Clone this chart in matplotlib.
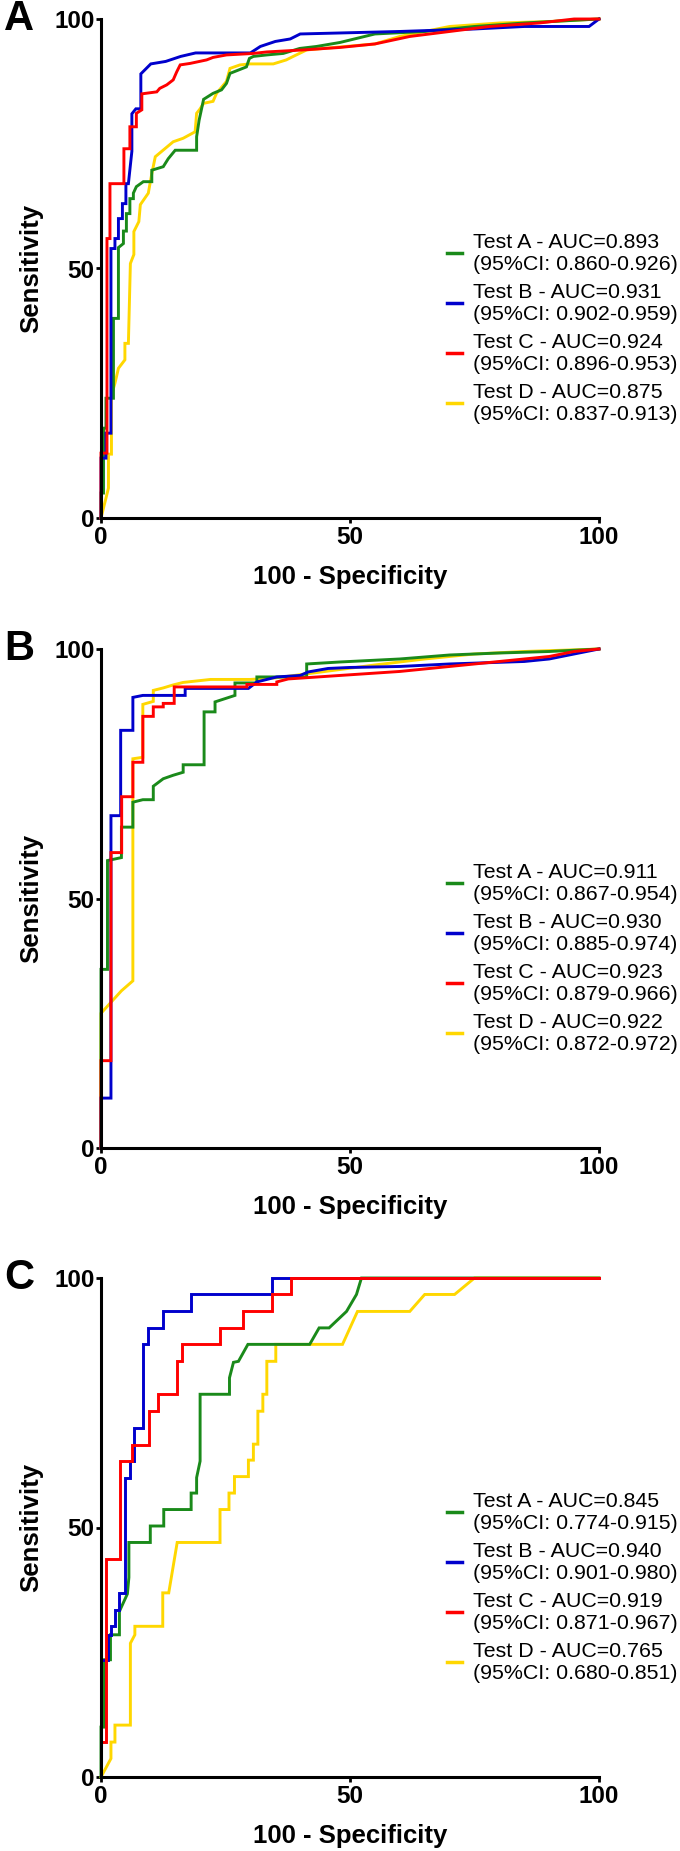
import matplotlib
matplotlib.use("Agg")
import matplotlib.pyplot as plt

plt.rcParams['font.family'] = ['Liberation Sans', 'DejaVu Sans']

# ---- panel A ----
A_testA_x = [0, 0, 0.5, 0.5, 1, 1, 2.5, 2.5, 3.5, 3.5, 4.5, 4.5, 5.1, 5.1, 5.8, 5.8, 6.5, 6.5, 7.1, 8.5,
             10.2, 10.2, 12.5, 13.5, 14.9, 19.2, 19.2, 19.7, 20.6, 22.5, 24.2, 25.2, 25.9, 29.2, 29.8, 30.6,
             33.3, 36.6, 39.9, 43.3, 48, 55, 65, 75, 85, 100]
A_testA_y = [0, 5, 5, 18, 18, 24, 24, 40, 40, 54.2, 55, 57.5, 57.5, 61, 61, 64, 64, 65.1, 66.4, 67.4,
             67.4, 69.7, 70.4, 72, 73.7, 73.7, 76.4, 79.7, 83.9, 85.1, 85.8, 87.1, 89.1, 90.4, 92.1, 92.5,
             92.8, 93.1, 94.1, 94.5, 95.3, 97, 97.5, 98.5, 99.2, 100]
A_testB_x = [0, 0, 1, 1, 2, 2, 2.8, 2.8, 3.5, 3.5, 4.3, 4.3, 5, 5, 5.5, 6.2, 6.2, 7, 8, 8,
             9, 10, 13, 16, 19, 30, 32, 35, 38, 40, 48, 60, 75, 85, 98, 100]
A_testB_y = [0, 12, 12, 17, 17, 54, 54, 56, 56, 60, 60, 63, 63, 67, 67, 73.5, 81, 82, 82, 89,
             90, 91, 91.5, 92.5, 93.2, 93.2, 94.5, 95.5, 96, 97, 97.2, 97.5, 98, 98.5, 98.5, 100]
A_testC_x = [0, 0, 1.2, 1.2, 1.8, 1.8, 4.6, 4.6, 5.8, 5.8, 7.1, 7.1, 8.2, 8.2, 11.2, 11.8, 13.2, 14.5,
             15.2, 15.9, 17.9, 21.2, 22.5, 25.2, 30.6, 33.3, 40.6, 48, 55, 62, 70, 78, 88, 95, 100]
A_testC_y = [0, 13, 13, 56, 56, 67, 67, 74, 74, 78.4, 78.4, 81.1, 81.8, 85, 85.4, 86.1, 86.8, 87.8,
             89.4, 90.8, 91.1, 91.8, 92.3, 92.8, 93.1, 93.4, 93.8, 94.3, 95, 96.5, 97.5, 98.5, 99.2, 100, 100]
A_testD_x = [0, 1.5, 1.5, 2.1, 2.1, 2.8, 3.5, 4.8, 4.8, 5.5, 5.9, 6.6, 6.6, 7.6, 7.9, 9.5, 10.2, 10.9,
             14.5, 16.5, 18.9, 19.2, 19.9, 20.6, 22.5, 23.2, 25.2, 25.9, 27.9, 29.9, 34.6, 37.2, 38.6,
             41.3, 48, 55, 60, 70, 80, 90, 100]
A_testD_y = [0, 6, 12.8, 12.8, 24.6, 27, 30, 31.7, 35, 35, 51, 52.8, 57.4, 59.4, 62.8, 65.1, 69, 72.4,
             75.4, 76.1, 77.4, 81.1, 82, 83.1, 83.5, 85.1, 87.5, 90.1, 90.8, 91, 91, 91.8, 92.5,
             93.8, 94.4, 95, 96.5, 98.5, 99.2, 99.5, 100]
A_labels = ["Test A - AUC=0.893\n(95%CI: 0.860-0.926)",
            "Test B - AUC=0.931\n(95%CI: 0.902-0.959)",
            "Test C - AUC=0.924\n(95%CI: 0.896-0.953)",
            "Test D - AUC=0.875\n(95%CI: 0.837-0.913)"]

# ---- panel B ----
B_testA_x = [0, 0, 1.3, 1.3, 4.1, 4.1, 6.4, 6.4, 8.4, 10.5, 10.5, 12.5, 14.5, 16.5, 16.5, 20.7, 20.7,
             22.9, 22.9, 26.9, 26.9, 31.3, 31.3, 41.3, 41.3, 48, 60, 70, 80, 90, 100]
B_testA_y = [0, 35.8, 35.8, 57.6, 58.2, 64.3, 64.3, 69.3, 69.8, 69.8, 72.5, 74, 74.7, 75.3, 76.8, 76.8,
             87.4, 87.4, 89.4, 90.7, 93.2, 93.2, 94.4, 94.4, 97, 97.4, 98, 98.8, 99.2, 99.5, 100]
B_testB_x = [0, 0, 2, 2, 3.95, 3.95, 6.4, 6.4, 8.4, 16.9, 16.9, 29.6, 31.3, 35.3, 40, 41.6, 45.6, 50,
             60, 70, 85, 90, 95, 100]
B_testB_y = [0, 10, 10, 66.6, 66.6, 83.7, 83.7, 90.3, 90.7, 90.7, 92.1, 92.1, 93.4, 94.4, 94.7, 95.4,
             96.1, 96.3, 96.5, 97, 97.5, 98, 99, 100]
B_testC_x = [0, 0, 2, 2, 4.15, 4.15, 6.4, 6.4, 8.4, 8.4, 10.5, 10.5, 12.5, 12.5, 14.7, 14.7, 29.3, 29.3,
             35.3, 35.3, 37.6, 48, 60, 70, 80, 90, 95, 100]
B_testC_y = [0, 17.5, 17.5, 59.2, 59.2, 70.4, 70.4, 77.3, 77.3, 86.5, 86.5, 88.4, 88.4, 89.1, 89.1, 92.4,
             92.4, 92.9, 92.9, 93.4, 94, 94.7, 95.5, 96.5, 97.5, 98.5, 99.5, 100]
B_testD_x = [0, 0, 4.1, 6.4, 6.4, 8.4, 8.4, 10.5, 10.5, 12.5, 14.5, 16.5, 22, 30, 35, 45, 55, 65, 75, 85, 100]
B_testD_y = [0, 27, 31.5, 33.5, 78, 78.3, 88.9, 89.5, 91.7, 92.2, 92.8, 93.3, 93.9, 93.9, 94.2, 95.5,
             96.8, 98, 99, 99.5, 100]
B_labels = ["Test A - AUC=0.911\n(95%CI: 0.867-0.954)",
            "Test B - AUC=0.930\n(95%CI: 0.885-0.974)",
            "Test C - AUC=0.923\n(95%CI: 0.879-0.966)",
            "Test D - AUC=0.922\n(95%CI: 0.872-0.972)"]

# ---- panel C ----
C_testA_x = [0, 0, 0.7, 0.7, 1.9, 1.9, 3.7, 3.7, 5.3, 5.6, 5.6, 9.9, 9.9, 12.6, 12.6, 18.1, 18.1, 19.2,
             19.2, 19.9, 19.9, 25.8, 25.8, 26.6, 27.6, 29.5, 41.9, 43.8, 45.8, 49.3, 51.3, 52.3, 100]
C_testA_y = [0, 10, 10, 23.5, 23.5, 28.5, 28.5, 33.2, 36.7, 40, 47, 47, 50.3, 50.3, 53.6, 53.6, 56.9,
             56.9, 60, 63.3, 76.7, 76.7, 80, 83.1, 83.3, 86.7, 86.7, 90, 90, 93.3, 96.7, 100, 100]
C_testB_x = [0, 0, 1.4, 1.4, 2, 2, 2.9, 2.9, 3.7, 3.7, 4.8, 4.8, 5.8, 5.8, 6.6, 6.6, 8.5, 8.5, 9.5, 9.5,
             12.4, 12.4, 18, 18, 34.3, 34.3, 100]
C_testB_y = [0, 23.5, 23.5, 28.5, 28.5, 30.2, 30.2, 33.5, 33.5, 36.9, 36.9, 60, 60, 63.3, 63.3, 70, 70,
             86.7, 86.7, 90, 90, 93.3, 93.3, 96.7, 96.7, 100, 100]
C_testC_x = [0, 0, 1, 1, 3.9, 3.9, 6.2, 6.2, 9.7, 9.7, 11.5, 11.5, 15.3, 15.3, 16.2, 16.2, 23.8, 23.8,
             28.6, 28.6, 34.3, 34.3, 38.1, 38.1, 100]
C_testC_y = [0, 7, 7, 43.6, 43.6, 63.4, 63.4, 66.6, 66.6, 73.3, 73.3, 76.7, 76.7, 83.3, 83.3, 86.7, 86.7,
             90, 90, 93.3, 93.3, 96.7, 96.7, 100, 100]
C_testD_x = [0, 2, 2, 2.8, 2.8, 5.9, 5.9, 6.8, 6.8, 12.4, 12.4, 13.6, 15.3, 23.9, 23.9, 25.7, 25.7, 26.8,
             26.8, 29.6, 29.6, 30.6, 30.6, 31.5, 31.5, 32.5, 32.5, 33.3, 33.3, 35.1, 35.1, 48.5, 51.5,
             62, 65, 71, 75, 100]
C_testD_y = [0, 3.7, 7, 7, 10.4, 10.4, 26.8, 28.5, 30.2, 30.2, 36.9, 36.9, 47, 47, 53.6, 53.6, 56.9,
             56.9, 60.2, 60.2, 63.5, 63.5, 66.7, 66.7, 73.3, 73.3, 76.7, 76.7, 83.3, 83.3, 86.7, 86.7,
             93.3, 93.3, 96.7, 96.7, 100, 100]
C_labels = ["Test A - AUC=0.845\n(95%CI: 0.774-0.915)",
            "Test B - AUC=0.940\n(95%CI: 0.901-0.980)",
            "Test C - AUC=0.919\n(95%CI: 0.871-0.967)",
            "Test D - AUC=0.765\n(95%CI: 0.680-0.851)"]

panel_letters = ["A", "B", "C"]
ticks = [0, 50, 100]
colors = ["#1a8a1a", "#0000cc", "#ff0000", "#ffd700"]


def draw_panel(ax, curves, labels, letter):
    handles = [None] * 4
    # yellow drawn first, red on top
    for i in [3, 0, 1, 2]:
        xs, ys = curves[i]
        line, = ax.plot(xs, ys, color=colors[i], lw=2.1, clip_on=False,
                        solid_joinstyle='miter')
        handles[i] = line
    ax.set_xlim(0, 100)
    ax.set_ylim(0, 100)
    ax.set_xticks(ticks)
    ax.set_yticks(ticks)
    for side in ["top", "right"]:
        ax.spines[side].set_visible(False)
    for side in ["left", "bottom"]:
        ax.spines[side].set_linewidth(2.2)
    ax.tick_params(width=2.0, length=3.5, labelsize=17.5)
    ax.tick_params(axis='x', pad=2)
    ax.tick_params(axis='y', pad=1)
    for lab in ax.get_xticklabels() + ax.get_yticklabels():
        lab.set_fontweight('bold')
    ax.set_xlabel("100 - Specificity", fontsize=18.5, fontweight='bold', labelpad=12)
    ax.set_ylabel("Sensitivity", fontsize=18.5, fontweight='bold', labelpad=8)
    leg = ax.legend(handles, labels, loc='center left', bbox_to_anchor=(0.695, 0.38),
                    frameon=False, fontsize=15.4, handlelength=0.7, handletextpad=0.5,
                    borderpad=0, borderaxespad=0, labelspacing=0.42)
    for h in leg.get_lines():
        h.set_linewidth(2.5)
    ax.text(-0.195, 1.0, letter, transform=ax.transAxes, fontsize=30, fontweight='bold',
            ha='left', va='center')


fig = plt.figure(figsize=(6.8, 18.51), dpi=100)
left, width, height = 101 / 680, 498 / 680, 499 / 1851
tops = [19, 649, 1278]
panels = [
    ([(A_testA_x, A_testA_y), (A_testB_x, A_testB_y), (A_testC_x, A_testC_y), (A_testD_x, A_testD_y)], A_labels),
    ([(B_testA_x, B_testA_y), (B_testB_x, B_testB_y), (B_testC_x, B_testC_y), (B_testD_x, B_testD_y)], B_labels),
    ([(C_testA_x, C_testA_y), (C_testB_x, C_testB_y), (C_testC_x, C_testC_y), (C_testD_x, C_testD_y)], C_labels),
]
for top, (curves, labels), letter in zip(tops, panels, panel_letters):
    bottom = 1 - (top + 499) / 1851
    ax = fig.add_axes([left, bottom, width, height])
    draw_panel(ax, curves, labels, letter)

fig.savefig("out.png", dpi=100)
